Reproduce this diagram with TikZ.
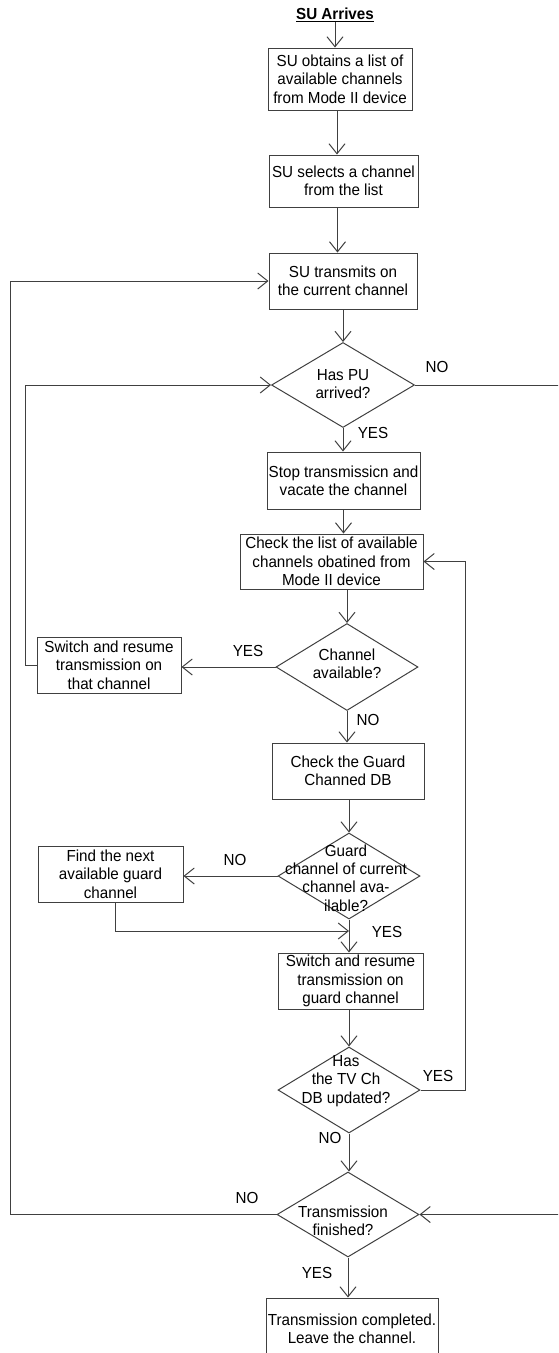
\documentclass[tikz,border=0pt]{standalone}
\usepackage{fontspec}
\setmainfont{Liberation Sans}[FakeStretch=0.95]
\usetikzlibrary{shapes.geometric,arrows.meta}
\begin{document}
\begin{tikzpicture}[x=1pt,y=-1pt,
  font=\fontsize{16}{18.3}\selectfont,
  box/.style={draw=black!75, line width=1pt, rectangle, align=center, inner sep=0pt},
  dia/.style={draw=black!75, line width=1pt, diamond, inner sep=0pt},
  txt/.style={align=center, inner sep=0pt},
  lbl/.style={inner sep=0pt},
  conn/.style={draw=black!75, line width=1pt, -{Straight Barb[length=10pt,width=16pt]}},
  plain/.style={draw=black!75, line width=1pt}]
\useasboundingbox (0,0) rectangle (558,1353);
\clip (0,0) rectangle (558,1353);

\node[lbl, font=\fontsize{16}{18.3}\selectfont\bfseries] (title) at (335,15) {\underline{SU Arrives}};

\node[box, minimum width=144pt, minimum height=62pt] (b1) at (340,79) {SU obtains a list of\\available channels\\from Mode II device};
\node[box, minimum width=149pt, minimum height=52pt] (b2) at (343.5,181) {SU selects a channel\\from the list};
\node[box, minimum width=148pt, minimum height=56pt] (b3) at (343,281) {SU transmits on\\the current channel};
\node[dia, minimum width=143pt, minimum height=85pt] (d1) at (343,385) {};
\node[txt] (t1) at (343,384) {Has PU\\arrived?};
\node[box, minimum width=153pt, minimum height=57pt] (b4) at (343.5,480.5) {Stop transmissicn and\\vacate the channel};
\node[box, minimum width=183pt, minimum height=55pt] (b5) at (331.5,561.5) {Check the list of available\\channels obatined from\\Mode II device};
\node[dia, minimum width=142pt, minimum height=87pt] (d2) at (347,667) {};
\node[txt] (t2) at (347,664) {Channel\\available?};
\node[box, minimum width=144pt, minimum height=56pt] (sw) at (109,665) {Switch and resume\\transmission on\\that channel};
\node[box, minimum width=152pt, minimum height=56pt] (b6) at (348,771) {Check the Guard\\Channed DB};
\node[dia, minimum width=142pt, minimum height=86pt] (d3) at (349,876) {};
\node[txt] (t3) at (346,878) {Guard\\channel of current\\channel ava-\\ilable?};
\node[box, minimum width=145pt, minimum height=56pt] (fn) at (110.5,874) {Find the next\\available guard\\channel};
\node[box, minimum width=145pt, minimum height=56pt] (b8) at (350.5,981) {Switch and resume\\transmission on\\guard channel};
\node[dia, minimum width=142pt, minimum height=86pt] (d4) at (349,1090) {};
\node[txt] (t4) at (346,1081) {Has\\the TV Ch\\DB updated?};
\node[dia, minimum width=142pt, minimum height=85pt] (d5) at (348,1214.5) {};
\node[txt] (t5) at (343,1221) {Transmission\\finished?};
\node[box, minimum width=172pt, minimum height=82pt] (b9) at (352,1339) {};
\node[txt] (t9) at (352,1329) {Transmission completed.\\Leave the channel.};

\coordinate (L1) at (10,0);
\coordinate (L2) at (25,0);
\coordinate (R1) at (465,0);
\coordinate (R2) at (575,0);
\coordinate (J) at (349,931);

\draw[conn] (title.south) -- (title.south |- b1.north);
\draw[conn] ([xshift=-3pt]b1.south) -- ([xshift=-3pt]b1.south |- b2.north);
\draw[conn] ([xshift=-6pt]b2.south) -- ([xshift=-6pt]b2.south |- b3.north);
\draw[conn] (b3.south) -- (d1.north);
\draw[conn] (d1.south) -- (d1.south |- b4.north);
\draw[conn] (b4.south) -- (b4.south |- b5.north);
\draw[conn] (b5.south -| d2.north) -- (d2.north);
\draw[conn] (d2.west) -- (d2.west -| sw.east);
\draw[conn] (sw.west) -- (sw.west -| L2) |- (d1.west);
\draw[conn] (d2.south) -- (d2.south |- b6.north);
\draw[conn] (b6.south -| d3.north) -- (d3.north);
\draw[conn] (d3.west) -- (d3.west -| fn.east);
\draw[conn] ([xshift=4.5pt]fn.south) -- ([xshift=4.5pt]fn.south |- J) -- (J);
\draw[conn] (d3.south) -- (d3.south |- b8.north);
\draw[conn] (b8.south -| d4.north) -- (d4.north);
\draw[conn] (d4.east) -- (d4.east -| R1) |- (b5.east);
\draw[conn] (d4.south) -- (d4.south |- d5.north);
\draw[conn] (d5.west) -- (d5.west -| L1) |- (b3.west);
\draw[conn] (d1.east) -- (d1.east -| R2) |- (d5.east);
\draw[conn] (d5.south) -- (d5.south |- b9.north);

\node[lbl] (n1) at (437,367) {NO};
\node[lbl] (y1) at (373,433) {YES};
\node[lbl] (y2) at (248,651) {YES};
\node[lbl] (n2) at (368,720) {NO};
\node[lbl] (n3) at (235,860) {NO};
\node[lbl] (y3) at (387,932) {YES};
\node[lbl] (y4) at (438,1076) {YES};
\node[lbl] (n4) at (330,1138) {NO};
\node[lbl] (n5) at (247,1198) {NO};
\node[lbl] (y5) at (317,1273) {YES};
\end{tikzpicture}
\end{document}
